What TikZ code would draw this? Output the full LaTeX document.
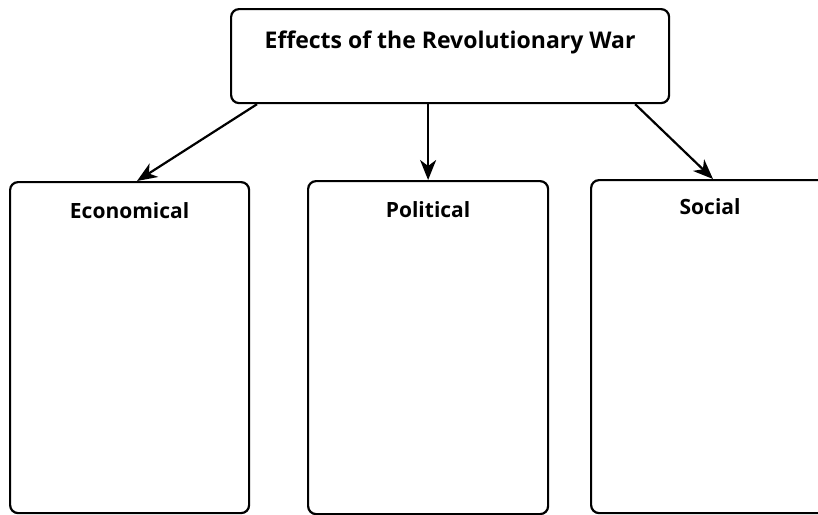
\documentclass[tikz,border=0pt]{standalone}
\usepackage{fontspec}
\setmainfont{Open Sans}
\usetikzlibrary{arrows.meta,calc}
\begin{document}
\begin{tikzpicture}[x=1pt,y=-1pt,
  box/.style={draw, line width=2.2pt, rounded corners=8pt, inner sep=0pt, anchor=north west,
    font=\bfseries\fontsize{21}{21}\selectfont},
  conn/.style={line width=2.2pt, -{Stealth[length=20pt,width=16pt,inset=6pt]}}]
\useasboundingbox (0,0) rectangle (818,514);
\clip (0,0) rectangle (818,514);
\node[box, minimum width=438pt, text height=39pt, text depth=55pt,
  font=\bfseries\fontsize{23}{23}\selectfont] (top) at (230,8) {Effects of the Revolutionary War};
\node[box, minimum width=239pt, text height=36pt, text depth=295pt] (eco) at (9,181) {Economical};
\node[box, minimum width=240pt, text height=36pt, text depth=297pt] (pol) at (307,180) {Political};
\node[box, minimum width=238pt, text height=34pt, text depth=299pt] (soc) at (590,179) {Social};
\draw[conn] ($(top.south west)+(27,0)$) -- ($(eco.north west)+(128,0)$);
\draw[conn] (pol.north |- top.south) -- (pol.north);
\draw[conn] ($(top.south east)+(-35,0)$) -- ($(soc.north west)+(123,0)$);
\end{tikzpicture}
\end{document}
